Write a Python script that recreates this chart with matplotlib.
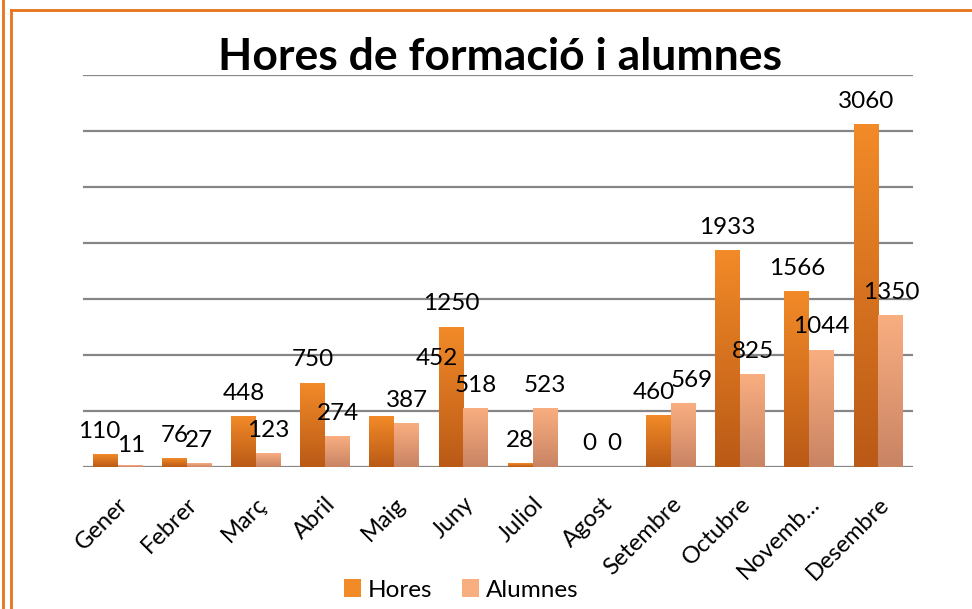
import numpy as np
import matplotlib
matplotlib.use("Agg")
import matplotlib.pyplot as plt
from matplotlib.colors import LinearSegmentedColormap
from matplotlib.lines import Line2D
from matplotlib.patches import Patch

months = ["Gener", "Febrer", "Març", "Abril", "Maig", "Juny", "Juliol",
          "Agost", "Setembre", "Octubre", "Novemb…", "Desembre"]
hores = [110, 76, 448, 750, 452, 1250, 28, 0, 460, 1933, 1566, 3060]
alumnes = [11, 27, 123, 274, 387, 518, 523, 0, 569, 825, 1044, 1350]
series_names = ["Hores", "Alumnes"]

FONT = "Lato"
W, H = 972, 609
fig = plt.figure(figsize=(W / 100, H / 100), dpi=100)
ax = fig.add_axes([83 / W, 1 - 467 / H, (913 - 83) / W, (467 - 75) / H])

x = np.arange(len(months))
bw = 0.36
hores_top, hores_bot = "#F28A28", "#BA5A16"
alum_top, alum_bot = "#F9AE80", "#C98464"

bars_h = ax.bar(x - bw / 2, hores, bw, color=hores_top, zorder=3)
bars_a = ax.bar(x + bw / 2, alumnes, bw, color=alum_top, zorder=3)

grad = np.linspace(0, 1, 64).reshape(-1, 1)
for bars, top, bot in ((bars_h, hores_top, hores_bot), (bars_a, alum_top, alum_bot)):
    cmap = LinearSegmentedColormap.from_list("g", [bot, top])
    for b in bars:
        h = b.get_height()
        if h <= 0:
            continue
        x0 = b.get_x()
        ax.imshow(grad, cmap=cmap, origin="lower", aspect="auto",
                  extent=[x0, x0 + b.get_width(), 0, h], zorder=4,
                  interpolation="bilinear")

ax.set_xlim(-0.5, len(months) - 0.5)
ax.set_ylim(0, 3500)
ax.set_yticks(np.arange(0, 3501, 500))
ax.yaxis.grid(True, color="#868686", lw=1.6, zorder=1)
ax.set_yticklabels([])
ax.tick_params(axis="y", length=0)
for s in ax.spines.values():
    s.set_visible(False)

# label nudges (points) where the reference moved a label
h_shift = {0: (-4, 0), 4: (40, 25), 8: (-3, 0)}
a_shift = {0: (1, -2), 8: (6, 0)}
for i, (xi, v) in enumerate(zip(x, hores)):
    dx, dy = h_shift.get(i, (0, 0))
    ax.annotate(str(v), (xi - bw / 2, v), xytext=(dx, 12 + dy), textcoords="offset points",
                ha="center", va="baseline", fontsize=17.5, family=FONT, color="black", zorder=6)
for i, (xi, v) in enumerate(zip(x, alumnes)):
    dx, dy = a_shift.get(i, (0, 0))
    ax.annotate(str(v), (xi + bw / 2, v), xytext=(dx, 12 + dy), textcoords="offset points",
                ha="center", va="baseline", fontsize=17.5, family=FONT, color="black", zorder=6)

ax.set_xticks(x)
ax.set_xticklabels(months, rotation=45, ha="right", rotation_mode="anchor",
                   fontsize=17, family=FONT)
ax.tick_params(axis="x", length=0, pad=19)

fig.text(500 / W, 1 - 57 / H, "Hores de formació i alumnes", ha="center", va="center",
         fontsize=32, fontweight="bold", family=FONT)

handles = [Patch(facecolor=hores_top, edgecolor="none"), Patch(facecolor=alum_top, edgecolor="none")]
fig.legend(handles, series_names, loc="center", bbox_to_anchor=(461 / W, 1 - 590 / H),
           ncol=2, frameon=False, prop={"family": FONT, "size": 17.5},
           handlelength=0.7, handleheight=0.7, handletextpad=0.3, columnspacing=1.2)

oc = "#E8731C"
fig.add_artist(Line2D([2.5 / W, 2.5 / W], [0, 1], transform=fig.transFigure, color=oc, lw=2))
fig.add_artist(Line2D([10.5 / W, 10.5 / W], [0, 1 - 10 / H], transform=fig.transFigure, color=oc, lw=2))
fig.add_artist(Line2D([10.5 / W, 1], [1 - 10 / H, 1 - 10 / H], transform=fig.transFigure, color=oc, lw=2))

fig.savefig("out.png", dpi=100, facecolor="white")
